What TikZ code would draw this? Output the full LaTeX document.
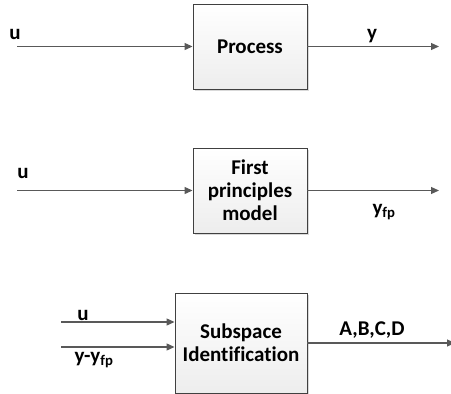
\documentclass[tikz,border=0pt]{standalone}
\usepackage{fontspec}
\setmainfont{Carlito}[Ligatures=NoCommon]
\usetikzlibrary{arrows.meta,shadows,positioning}
\definecolor{wire}{HTML}{595959}
\definecolor{edge}{HTML}{404040}

\begin{document}
\begin{tikzpicture}[
  x=1pt, y=-1pt,
  block/.style={draw=edge, line width=0.9pt, top color=white, bottom color=gray!14,
                font=\fontsize{21}{23}\selectfont\bfseries, align=center,
                drop shadow={shadow xshift=2pt, shadow yshift=-2pt, fill=gray!30, opacity=1}},
  lbl/.style={anchor=base, font=\fontsize{21}{23}\selectfont\bfseries, inner sep=0pt},
  sig/.style={draw=wire, line width=1.2pt, -{Triangle[length=8pt,width=7pt]}}
]
\clip (0,0) rectangle (451,394);

% Blocks top to bottom
\node[block, minimum width=114pt, minimum height=85pt] (process) at (250,46.5) {Process};
\node[block, minimum width=114pt, minimum height=85pt] (fpm) at (250,190.5)
  {First\\principles\\model};
\node[block, minimum width=132pt, minimum height=100pt] (subid) at (241,343)
  {Subspace\\Identification};

% Free ends of the signals
\coordinate (in1) at (17,46.5);
\coordinate (out1) at (439,46.5);
\coordinate (in2) at (17,190.5);
\coordinate (out2) at (439,190.5);
\coordinate (inu3) at (61,322);
\coordinate (iny3) at (61,347);
\coordinate (out3) at (455,343);

% Signals
\draw[sig] (in1) -- (process.west);
\draw[sig] (process.east) -- (out1);
\draw[sig] (in2) -- (fpm.west);
\draw[sig] (fpm.east) -- (out2);
\draw[sig] (inu3) -- (inu3 -| subid.west);
\draw[sig] (iny3) -- (iny3 -| subid.west);
\draw[sig] (subid.east) -- (out3);

% Labels
\node[lbl] (u1) at (15,39) {u};
\node[lbl] (y1) at (372,39) {y};
\node[lbl] (u2) at (23,178) {u};
\node[lbl] (yfp2) at (384,214) {y\textsubscript{fp}};
\node[lbl] (u3) at (83,320) {u};
\node[lbl] (yyfp3) at (94,362) {y-y\textsubscript{fp}};
\node[lbl] (abcd) at (372,335) {A,B,C,D};

\end{tikzpicture}
\end{document}
